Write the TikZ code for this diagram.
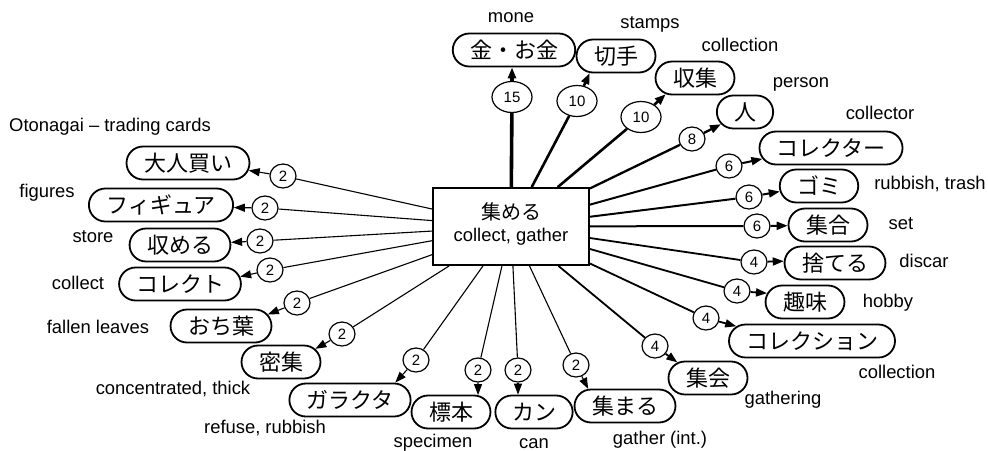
\documentclass[tikz,border=0pt]{standalone}
\usepackage{fontspec}
\setmainfont{Liberation Sans}
\newfontfamily\jp{Noto Sans CJK JP}
\usetikzlibrary{shapes.misc,shapes.geometric,arrows.meta}
\begin{document}
\begin{tikzpicture}[x=1pt,y=-1pt,
  term/.style={rounded rectangle, draw, line width=1.8pt, minimum height=33pt, inner xsep=14pt, inner ysep=0pt, font=\jp\fontsize{22}{26}\selectfont},
  hub/.style={rectangle, draw, line width=1.8pt, minimum width=156pt, minimum height=77pt, inner sep=0pt, align=center, text depth=9pt, font=\fontsize{18.4}{22}\selectfont},
  cnt/.style={ellipse, draw, fill=white, line width=1.2pt, inner sep=0pt, minimum width=26pt, minimum height=24pt, font=\fontsize{15}{18}\selectfont},
  cntw/.style={cnt, minimum width=40pt, minimum height=31pt},
  lbl/.style={inner sep=0pt, font=\fontsize{18.4}{22}\selectfont},
  wA/.style={line width=3.6pt},
  wB/.style={line width=2.6pt},
  wC/.style={line width=2.3pt},
  wD/.style={line width=2pt},
  wE/.style={line width=1.8pt},
  wF/.style={line width=1.1pt},
  tip/.style={-{Triangle[length=11pt,width=8pt]}}
]
\path[fill=white] (0,0) rectangle (988,450);
\useasboundingbox (0,0) rectangle (988,450);

% hub
\node[hub] (c) at (511,226.5) {{\jp\fontsize{20}{22}\selectfont 集める}\\collect, gather};

% target terms
\node[term] (t1) at (514,50) {金・お金};
\node[term] (t2) at (616,56) {切手};
\node[term] (t3) at (695,78) {収集};
\node[term] (t4) at (745,112) {人};
\node[term] (t5) at (831,148) {コレクター};
\node[term] (t6) at (819,186) {ゴミ};
\node[term] (t7) at (828,225) {集合};
\node[term] (t8) at (835,263) {捨てる};
\node[term] (t9) at (805,302) {趣味};
\node[term] (t10) at (812,341) {コレクション};
\node[term] (t11) at (708,378) {集会};
\node[term] (t12) at (625,406) {集まる};
\node[term] (t13) at (534,412) {カン};
\node[term] (t14) at (451,412) {標本};
\node[term] (t15) at (350,400) {ガラクタ};
\node[term] (t16) at (281,362) {密集};
\node[term] (t17) at (221,326) {おち葉};
\node[term] (t18) at (180,284) {コレクト};
\node[term] (t19) at (180,245) {収める};
\node[term] (t20) at (161,205) {フィギュア};
\node[term] (t21) at (188,163) {大人買い};

% glosses
\node[lbl] (l1) at (511,18) {mone};
\node[lbl] (l2) at (650,24) {stamps};
\node[lbl] (l3) at (740,45) {collection};
\node[lbl] (l4) at (801,84) {person};
\node[lbl] (l5) at (880,113) {collector};
\node[lbl] (l6) at (930,184) {rubbish, trash};
\node[lbl] (l7) at (901,224) {set};
\node[lbl] (l8) at (924,261) {discar};
\node[lbl] (l9) at (888,303) {hobby};
\node[lbl] (l10) at (897,372) {collection};
\node[lbl] (l11) at (783,400) {gathering};
\node[lbl] (l12) at (660,440) {gather (int.)};
\node[lbl] (l13) at (534,444) {can};
\node[lbl] (l14) at (433,443) {specimen};
\node[lbl] (l15) at (265,428) {refuse, rubbish};
\node[lbl] (l16) at (173,389) {concentrated, thick};
\node[lbl] (l17) at (98,327) {fallen leaves};
\node[lbl] (l18) at (78,283) {collect};
\node[lbl] (l19) at (93,237) {store};
\node[lbl] (l20) at (47,193) {figures};
\node[lbl] (l21) at (110,127) {Otonagai -- trading cards};

% counts
\node[cntw] (e1) at (512,97) {15};
\node[cntw] (e2) at (577,101) {10};
\node[cntw] (e3) at (641,117) {10};
\node[cnt] (e4) at (692,139) {8};
\node[cnt] (e5) at (729,166) {6};
\node[cnt] (e6) at (749,197) {6};
\node[cnt] (e7) at (757,226) {6};
\node[cnt] (e8) at (754,262) {4};
\node[cnt] (e9) at (737,291) {4};
\node[cnt] (e10) at (706,318) {4};
\node[cnt] (e11) at (655,346) {4};
\node[cnt] (e12) at (576,365) {2};
\node[cnt] (e13) at (518,370) {2};
\node[cnt] (e14) at (478,370) {2};
\node[cnt] (e15) at (416,360) {2};
\node[cnt] (e16) at (342,334) {2};
\node[cnt] (e17) at (297,303) {2};
\node[cnt] (e18) at (270,270) {2};
\node[cnt] (e19) at (260,241) {2};
\node[cnt] (e20) at (265,208) {2};
\node[cnt] (e21) at (283,176) {2};

% connectors
\draw[wA] (c) -- (e1);  \draw[wA,tip] (e1) -- (e1 |- t1.south);
\draw[wB] (c) -- (e2);  \draw[wB,tip] (e2) -- (t2.213);
\draw[wB] (c) -- (e3);  \draw[wB,tip] (e3) -- (t3.209);
\draw[wC] (c) -- (e4);  \draw[wC,tip] (e4) -- (t4.207);
\draw[wD] (c) -- (e5);  \draw[wD,tip] (e5) -- (t5.189);
\draw[wD] (c) -- (e6);  \draw[wD,tip] (e6) -- (t6.188);
\draw[wD] (c) -- (e7);  \draw[wD,tip] (e7) -- (t7.181);
\draw[wE] (c) -- (e8);  \draw[wE,tip] (e8) -- (t8.178);
\draw[wE] (c) -- (e9);  \draw[wE,tip] (e9) -- (t9.167);
\draw[wE] (c) -- (e10); \draw[wE,tip] (e10) -- (t10.169);
\draw[wE] (c) -- (e11); \draw[wE,tip] (e11) -- (t11.153);
\draw[wF] (c) -- (e12); \draw[wF,tip] (e12) -- (t12.155);
\draw[wF] (c) -- (e13); \draw[wF,tip] (e13) -- (e13 |- t13.north);
\draw[wF] (c) -- (e14); \draw[wF,tip] (e14) -- (t14.32);
\draw[wF] (c) -- (e15); \draw[wF,tip] (e15) -- (t15.21);
\draw[wF] (c) -- (e16); \draw[wF,tip] (e16) -- (t16.21);
\draw[wF] (c) -- (e17); \draw[wF,tip] (e17) -- (t17.14);
\draw[wF] (c) -- (e18); \draw[wF,tip] (e18) -- (t18.7);
\draw[wF] (c) -- (e19); \draw[wF,tip] (e19) -- (t19.3);
\draw[wF] (c) -- (e20); \draw[wF,tip] (e20) -- (t20.358);
\draw[wF] (c) -- (e21); \draw[wF,tip] (e21) -- (t21.353);
\end{tikzpicture}
\end{document}
